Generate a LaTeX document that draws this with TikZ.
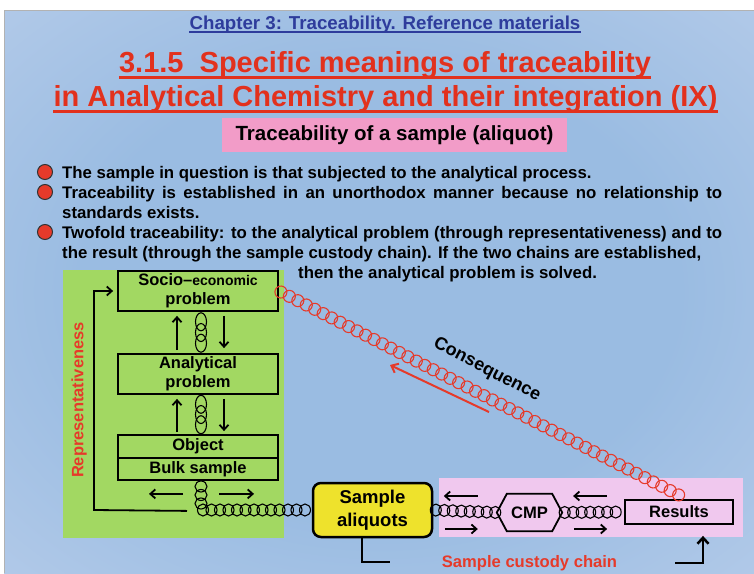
\documentclass[tikz,border=0pt]{standalone}
\usepackage{fontspec}
\setmainfont{Liberation Sans}
\usetikzlibrary{decorations.markings, arrows.meta}
\definecolor{bgA}{HTML}{9ABCE2}
\definecolor{bgB}{HTML}{C6D5EE}
\definecolor{bgC}{HTML}{F3E7F5}
\definecolor{titred}{HTML}{E2311D}
\definecolor{chapblue}{HTML}{2E3C9C}
\definecolor{subpink}{HTML}{F29CC8}
\definecolor{grn}{HTML}{A2D862}
\definecolor{yel}{HTML}{EEE22C}
\definecolor{pnk}{HTML}{F0C8EE}
\definecolor{redtwo}{HTML}{E63A2A}
\pgfdeclareradialshading{slidebg}{\pgfpoint{0bp}{0bp}}{color(0bp)=(bgA); color(20bp)=(bgA); color(50bp)=(bgB); color(71bp)=(bgC)}
\newcommand\myfs[2]{\fontsize{#1}{#2}\selectfont\bfseries}
\begin{document}
\begin{tikzpicture}[x=1pt,y=-1pt,
  arr/.style={-{Straight Barb[length=5pt,width=9pt]}, line width=1.8pt},
  bbox/.style={draw, line width=1.8pt, inner sep=0pt, align=center, font=\myfs{16.5}{19}},
  chainh/.style={decorate, decoration={markings, mark=between positions 0.04 and 0.99 step 8.5pt with {\draw[black, line width=1.1pt] (0,0) ellipse [x radius=5.5pt, y radius=6pt];}}},
  chainv/.style={decorate, decoration={markings, mark=between positions 0.24 and 0.8 step 0.26 with {\draw[black, line width=1.1pt] (0,0) ellipse [x radius=9pt, y radius=5.5pt];}}},
  chainr/.style={decorate, decoration={markings, mark=between positions 0.005 and 1 step 9.5pt with {\draw[redtwo, line width=1.1pt] (0,0) circle (6pt);}}},
  bul/.style={circle, fill=redtwo, draw=black!80, line width=1pt, minimum size=15pt, inner sep=0pt},
  btxt/.style={anchor=base west, inner sep=0pt, font=\myfs{16.8}{20}},
  ttl/.style={anchor=base, inner sep=0pt, font=\myfs{29}{32}, text=titred}
]
\useasboundingbox (0,0) rectangle (754,573);
\fill[white] (0,0) rectangle (754,573);
\shade[shading=slidebg] (4,10) rectangle (754,573);
\draw[gray!60, line width=1pt] (4,573) -- (4,10) -- (754,10);

% titles
\node[anchor=base, inner sep=0pt, font=\myfs{18.7}{22}, text=chapblue] (chap) at (385,29) {Chapter 3: Traceability. Reference materials};
\draw[chapblue, line width=2pt] ([yshift=-3pt]chap.base west) -- ([yshift=-3pt]chap.base east);
\node[ttl] (t1) at (385,72) {3.1.5\ \ Specific meanings of traceability};
\draw[titred, line width=3pt] ([yshift=-5pt]t1.base west) -- ([yshift=-5pt]t1.base east);
\node[ttl] (t2) at (385.5,106) {in Analytical Chemistry and their integration (IX)};
\draw[titred, line width=3pt] ([yshift=-5pt]t2.base west) -- ([yshift=-5pt]t2.base east);
\node[fill=subpink, minimum width=345pt, minimum height=34pt, inner sep=0pt, font=\myfs{20.5}{24}] (sub) at (394.5,135) {Traceability of a sample (aliquot)};

% bullets
\node[bul] (b1) at (45,172) {};
\node[bul] (b2) at (45,192) {};
\node[bul] (b3) at (45,232) {};
\node[btxt] (l1) at (62,178) {The sample in question is that subjected to the analytical process.};
\node[btxt] (l2) at (62,198) {\makebox[660pt][s]{Traceability is established in an unorthodox manner because no relationship to}};
\node[btxt] (l3) at (62,218) {standards exists.};
\node[btxt] (l4) at (62,238) {\makebox[660pt][s]{Twofold traceability: to the analytical problem (through representativeness) and to}};
\node[btxt] (l5) at (62,258) {the result (through the sample custody chain). If the two chains are established,};
\node[btxt] (l6) at (298,278) {then the analytical problem is solved.};

% areas
\fill[grn] (63,270) rectangle (284,538);
\fill[pnk] (439,478) rectangle (743,537);

% left boxes
\node[bbox, minimum width=160pt, minimum height=40pt] (soc) at (198,291) {Socio–{\myfs{14}{19}economic}\\problem};
\node[bbox, minimum width=160pt, minimum height=40pt] (ana) at (198,374) {Analytical\\problem};
\node[bbox, minimum width=160pt, minimum height=23pt] (obj) at (198,446.5) {Object};
\node[bbox, minimum width=160pt, minimum height=22pt] (bulk) at (198,469) {Bulk sample};
\node[rotate=90, inner sep=0pt, font=\myfs{16.5}{20}, text=redtwo] (rep) at (79,400) {Representativeness};

\draw[arr] ([xshift=-21pt,yshift=3pt]ana.north) -- ([xshift=-21pt,yshift=-4pt]soc.south);
\draw[arr] ([xshift=26pt,yshift=-4pt]soc.south) -- ([xshift=26pt,yshift=5pt]ana.north);
\path[chainv] ([xshift=3pt]soc.south) -- ([xshift=3pt]ana.north);
\draw[arr] ([xshift=-21pt,yshift=2pt]obj.north) -- ([xshift=-21pt,yshift=-4pt]ana.south);
\draw[arr] ([xshift=26pt,yshift=-4pt]ana.south) -- ([xshift=26pt,yshift=3pt]obj.north);
\path[chainv] ([xshift=3pt]ana.south) -- ([xshift=3pt]obj.north);

\draw[arr] ([xshift=-15pt,yshift=-13pt]bulk.south) -- ([xshift=-49pt,yshift=-13pt]bulk.south);
\draw[arr] ([xshift=21pt,yshift=-13pt]bulk.south) -- ([xshift=56pt,yshift=-13pt]bulk.south);
\coordinate (fbl) at (94,510);
\draw[arr] ([xshift=-11pt,yshift=-30pt]bulk.south) -- (fbl) |- ([xshift=-4pt]soc.west);

% sample aliquots and custody chain
\node[draw, line width=2.5pt, rounded corners=8pt, fill=yel, minimum width=119pt, minimum height=54pt, inner sep=0pt, align=center, font=\myfs{18.5}{23}] (aliq) at (372.5,510) {Sample\\aliquots};
\path[chainh] ([xshift=3pt]bulk.south) |- (aliq.west);
\coordinate (lc) at (390,562);
\draw[line width=2.5pt] ([xshift=-10.5pt]aliq.south) |- (lc);

\node[inner sep=0pt, minimum width=65pt, minimum height=37pt, font=\myfs{16.6}{20}] (cmp) at (529.5,512.5) {CMP};
\draw[line width=1.8pt] (cmp.west) -- ([xshift=10pt]cmp.north west) -- ([xshift=-10pt]cmp.north east) -- (cmp.east) -- ([xshift=-10pt]cmp.south east) -- ([xshift=10pt]cmp.south west) -- cycle;
\node[bbox, minimum width=108pt, minimum height=24pt] (res) at (679,512) {Results};

\path[chainh] (aliq.east) -- (cmp.west);
\path[chainh] (cmp.east) -- (res.west);
\draw[arr] ([xshift=-19pt,yshift=16.5pt]cmp.west) -- ([xshift=-53pt,yshift=16.5pt]cmp.west);
\draw[arr] ([xshift=-52pt,yshift=-16.5pt]cmp.west) -- ([xshift=-19pt,yshift=-16.5pt]cmp.west);
\draw[arr] ([xshift=-17pt,yshift=16pt]res.west) -- ([xshift=-51pt,yshift=16pt]res.west);
\draw[arr] ([xshift=-50pt,yshift=-17pt]res.west) -- ([xshift=-17pt,yshift=-17pt]res.west);

\node[inner sep=0pt, font=\myfs{16.6}{20}, text=redtwo] (scc) at (529.5,563) {Sample custody chain};
\coordinate (brs) at (675,563);
\draw[line width=2.5pt, -{Straight Barb[length=6pt,width=11pt]}] (brs) -| ([xshift=24pt,yshift=-11pt]res.south);

% consequence chain
\path[chainr] (soc.east) -- ([yshift=4pt]res.north);
\node[rotate=-27.5, inner sep=0pt, font=\myfs{18}{20}] (cons) at (487,370) {Consequence};
\coordinate (ca1) at (489,412);
\coordinate (ca2) at (390,365);
\draw[line width=2pt, redtwo, -{Straight Barb[length=6pt,width=10pt]}] (ca1) -- (ca2);
\end{tikzpicture}
\end{document}
